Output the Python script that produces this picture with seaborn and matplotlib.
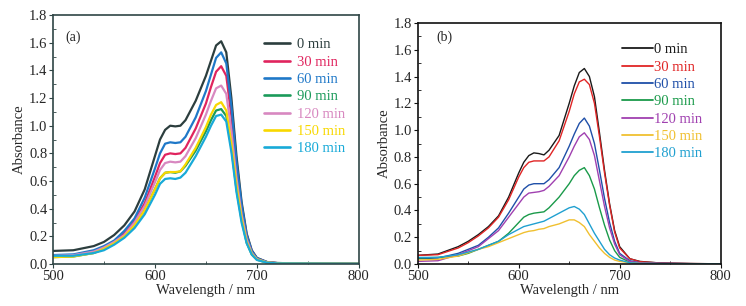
import numpy as np
import pandas as pd
import matplotlib
matplotlib.use("Agg")
import matplotlib.pyplot as plt
import seaborn as sns

# --- datos ---
wl = [500, 520, 540, 550, 560, 570, 580, 590, 600, 605, 610, 615, 620, 625, 630,
      640, 650, 655, 660, 665, 670, 675, 680, 685, 690, 695, 700, 710, 720, 740, 770, 800]

labels = ['0 min', '30 min', '60 min', '90 min', '120 min', '150 min', '180 min']

# panel (a)
a_0 = [.095, .10, .13, .16, .21, .28, .38, .54, .78, .90, .97, 1.00, .995, 1.00, 1.04,
       1.18, 1.36, 1.47, 1.58, 1.61, 1.53, 1.20, .78, .45, .22, .10, .045, .015, .008, .004, .003, .002]
a_30 = [.06, .065, .09, .12, .16, .22, .31, .44, .63, .73, .79, .80, .795, .80, .84,
        .98, 1.16, 1.28, 1.39, 1.43, 1.36, 1.07, .69, .40, .20, .09, .04, .013, .007, .004, .003, .002]
a_60 = [.065, .07, .10, .13, .17, .24, .33, .48, .69, .80, .87, .88, .875, .88, .92,
        1.06, 1.25, 1.37, 1.49, 1.53, 1.45, 1.14, .74, .43, .21, .095, .043, .014, .007, .004, .003, .002]
a_90 = [.05, .055, .08, .11, .15, .20, .28, .39, .54, .62, .66, .665, .66, .67, .71,
        .82, .96, 1.04, 1.11, 1.12, 1.07, .84, .54, .32, .155, .07, .032, .01, .006, .004, .003, .002]
a_120 = [.06, .065, .09, .12, .16, .21, .30, .42, .59, .68, .73, .74, .735, .74, .78,
         .91, 1.08, 1.18, 1.27, 1.29, 1.23, .96, .62, .36, .18, .08, .036, .012, .006, .004, .003, .002]
a_150 = [.05, .055, .08, .11, .15, .20, .28, .39, .54, .62, .66, .665, .665, .67, .72,
         .84, .99, 1.08, 1.15, 1.17, 1.11, .87, .57, .33, .16, .073, .033, .011, .006, .004, .003, .002]
a_180 = [.06, .06, .08, .10, .14, .19, .26, .36, .50, .58, .615, .62, .615, .625, .66,
         .78, .92, 1.00, 1.07, 1.08, 1.03, .81, .52, .30, .15, .068, .03, .01, .005, .004, .003, .002]

# panel (b)
b_0 = [.065, .075, .13, .17, .22, .28, .36, .50, .68, .76, .81, .83, .825, .815, .85,
       .96, 1.20, 1.33, 1.43, 1.46, 1.40, 1.25, .98, .70, .45, .25, .13, .04, .02, .008, .004, .002]
b_30 = [.065, .07, .12, .16, .21, .27, .35, .48, .65, .72, .76, .77, .77, .77, .80,
        .92, 1.14, 1.27, 1.36, 1.38, 1.34, 1.20, .95, .68, .44, .24, .12, .04, .018, .008, .004, .002]
b_60 = [.04, .045, .08, .11, .14, .20, .27, .38, .50, .56, .59, .60, .60, .60, .63,
        .72, .88, .97, 1.05, 1.09, 1.03, .90, .70, .49, .31, .17, .08, .025, .01, .005, .003, .002]
b_90 = [.045, .05, .06, .08, .11, .14, .17, .23, .31, .35, .37, .38, .385, .39, .42,
        .50, .60, .66, .70, .72, .66, .56, .42, .29, .18, .10, .05, .015, .007, .004, .003, .002]
b_120 = [.02, .025, .07, .10, .13, .19, .25, .35, .45, .50, .53, .535, .54, .55, .58,
         .66, .80, .88, .95, .98, .93, .81, .62, .43, .27, .15, .07, .02, .01, .005, .003, .002]
b_150 = [.03, .035, .06, .085, .11, .13, .16, .19, .22, .235, .245, .25, .26, .265, .28,
         .30, .33, .33, .31, .28, .22, .17, .12, .08, .05, .03, .02, .01, .005, .003, .002, .002]
b_180 = [.05, .05, .07, .09, .11, .14, .17, .22, .26, .28, .29, .30, .31, .32, .34,
         .38, .42, .43, .41, .37, .30, .23, .17, .11, .07, .045, .03, .01, .005, .003, .002, .002]

colores_a = ['#2c3e3e', '#e0245e', '#1f78c8', '#1a9a5a', '#d888c0', '#f8d800', '#18aad8']
colores_b = ['#1a1a1a', '#e02525', '#1f4fa8', '#1a9a4a', '#a040b0', '#f0c030', '#20a0d0']

series_a = [a_0, a_30, a_60, a_90, a_120, a_150, a_180]
series_b = [b_0, b_30, b_60, b_90, b_120, b_150, b_180]

sns.set_theme(style='white')
plt.rcParams['font.family'] = ['Liberation Serif', 'DejaVu Serif']

fig = plt.figure(figsize=(7.46, 3.06), dpi=100)
ax1 = fig.add_axes([0.071, 0.137, 0.410, 0.814])
ax2 = fig.add_axes([0.560, 0.137, 0.406, 0.788])


def dibujar(ax, series, colores, lw, marco, etiqueta, pos_et, pos_leg, hl, hpad):
    for s, c, lab in zip(series, colores, labels):
        sns.lineplot(x=wl, y=s, ax=ax, color=c, linewidth=lw, label=lab)
    ax.set_xlim(500, 800)
    ax.set_ylim(0, 1.8)
    ax.set_xticks([500, 600, 700, 800])
    ax.set_yticks(np.arange(0, 1.81, 0.2))
    ax.set_yticklabels([f'{v:.1f}' for v in np.arange(0, 1.81, 0.2)])
    ax.set_xticks([550, 650, 750], minor=True)
    ax.set_yticks(np.arange(0.1, 1.8, 0.2), minor=True)
    ax.tick_params(axis='both', which='major', direction='out', length=3, width=0.8,
                   labelsize=10.5, pad=1, color=marco)
    ax.tick_params(axis='both', which='minor', direction='in', length=2, width=0.6, color=marco)
    ax.tick_params(axis='x', which='both', top=False)
    ax.tick_params(axis='y', which='both', right=False)
    ax.tick_params(axis='both', which='both', bottom=True, left=True)
    for sp in ax.spines.values():
        sp.set_color(marco)
        sp.set_linewidth(1.2)
    ax.set_xlabel('Wavelength / nm', fontsize=10.5, labelpad=1)
    ax.set_ylabel('Absorbance', fontsize=10.5, labelpad=2)
    ax.text(pos_et[0], pos_et[1], etiqueta, transform=ax.transAxes, fontsize=10)
    leg = ax.legend(loc='upper left', bbox_to_anchor=pos_leg, frameon=False,
                    fontsize=10.5, handlelength=hl, handletextpad=hpad,
                    labelspacing=0.28, borderaxespad=0, labelcolor='linecolor')
    for h in leg.get_lines():
        h.set_linewidth(lw + 0.3)


dibujar(ax1, series_a, colores_a, 1.6, '#2f4545', '(a)', (0.04, 0.895), (0.67, 0.93), 1.8, 0.5)
dibujar(ax2, series_b, colores_b, 1.0, '#111111', '(b)', (0.06, 0.925), (0.655, 0.94), 2.1, 0.1)

fig.savefig('out.png', dpi=100, facecolor='white')
